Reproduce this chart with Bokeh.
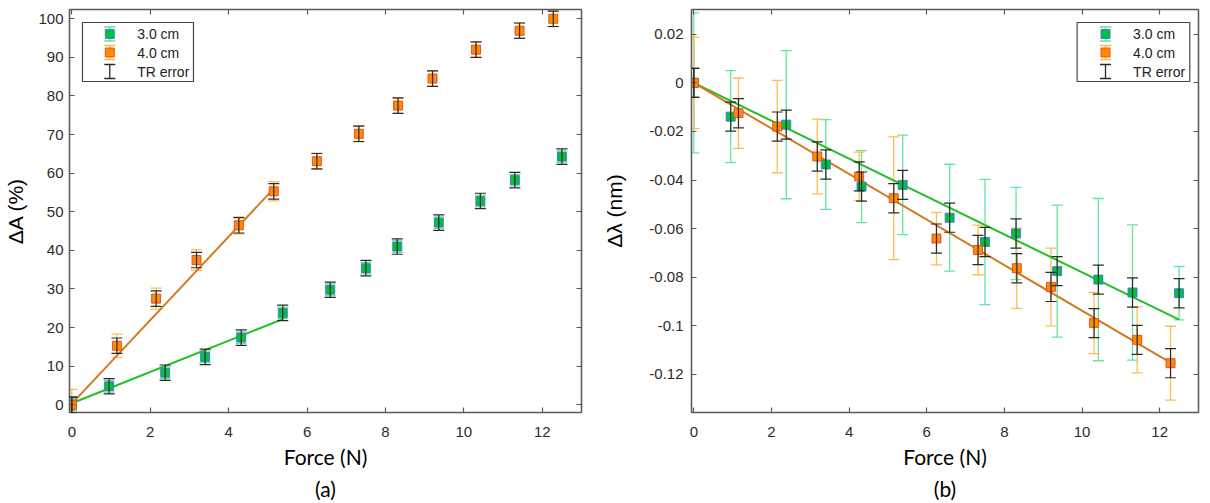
from bokeh.plotting import figure
from bokeh.layouts import row
from bokeh.models import (ColumnDataSource, Whisker, TeeHead, Range1d, LinearAxis,
                          FixedTicker, BoxAnnotation, Label, Title, CustomJSTickFormatter)
from bokeh.embed import file_html
from bokeh.resources import INLINE

# ---------------- data ----------------
force_30 = [0.0, 0.95, 2.38, 3.40, 4.32, 5.38, 6.59, 7.50, 8.30, 9.36, 10.42, 11.30, 12.50]
force_40 = [0.0, 1.15, 2.15, 3.18, 4.26, 5.15, 6.25, 7.32, 8.32, 9.20, 10.31, 11.42, 12.28]

# (a) Delta A (%)
dA_30 = [0.0, 4.8, 8.3, 12.4, 17.4, 23.8, 29.8, 35.4, 41.0, 47.2, 52.8, 58.2, 64.3]
dA_30_err = [1.5, 1.5, 1.5, 1.5, 1.5, 1.5, 1.5, 1.5, 1.5, 1.5, 1.5, 1.5, 1.5]
dA_40 = [0.0, 15.3, 27.5, 37.5, 46.5, 55.3, 63.1, 70.2, 77.5, 84.5, 92.0, 96.9, 100.0]
dA_40_err = [4.0, 3.0, 2.7, 2.7, 2.2, 2.5, 2.1, 2.1, 2.0, 2.0, 2.0, 2.0, 2.0]
dA_tr_err = [2.0, 2.0, 2.0, 2.0, 2.0, 2.0, 2.0, 2.0, 2.0, 2.0, 2.0, 2.0, 2.0]
fit_a_x_30 = [0.0, 5.38]
fit_a_y_30 = [0.4, 22.2]
fit_a_x_40 = [0.0, 5.15]
fit_a_y_40 = [0.3, 56.0]

# (b) Delta lambda (nm)
dl_30 = [0.0, -0.0139, -0.0172, -0.0336, -0.0427, -0.0420, -0.0555, -0.0655, -0.0620,
         -0.0775, -0.0810, -0.0863, -0.0866]
dl_30_err = [0.0288, 0.0189, 0.0305, 0.0185, 0.0148, 0.0205, 0.0220, 0.0258, 0.0190,
             0.0272, 0.0334, 0.0278, 0.0110]
dl_40 = [0.0, -0.0125, -0.0180, -0.0303, -0.0385, -0.0475, -0.0641, -0.0688, -0.0763,
         -0.0840, -0.0989, -0.1058, -0.1154]
dl_40_err = [0.0188, 0.0145, 0.0190, 0.0154, 0.0100, 0.0253, 0.0108, 0.0102, 0.0165,
             0.0160, 0.0126, 0.0136, 0.0152]
dl_tr_err = [0.006, 0.006, 0.006, 0.006, 0.006, 0.006, 0.006, 0.006, 0.006, 0.006, 0.006, 0.006, 0.006]
fit_b_x_30 = [0.0, 12.50]
fit_b_y_30 = [0.0, -0.0975]
fit_b_x_40 = [0.0, 12.28]
fit_b_y_40 = [0.0, -0.1152]

x_ticks = [0, 2, 4, 6, 8, 10, 12]
y_ticks_a = [0, 10, 20, 30, 40, 50, 60, 70, 80, 90, 100]
y_ticks_b = [0.02, 0.0, -0.02, -0.04, -0.06, -0.08, -0.10, -0.12]
series_labels = ["3.0 cm", "4.0 cm", "TR error"]

# ---------------- style ----------------
GREEN_FILL = "#00c23c"
GREEN_EDGE = "#4a6fe0"
GREEN_ERR = "#5ee39b"
ORANGE_FILL = "#ff8c00"
ORANGE_EDGE = "#e4481e"
ORANGE_ERR = "#ffb84d"
TR_COLOR = "#2a2a2a"
GREEN_LINE = "#22c022"
ORANGE_LINE = "#d27a22"
AXIS_COLOR = "#5a5a5a"
TICK_FONT = "Liberation Sans"
FRAME_H = 403


def whisker(p, x, y, err, color, level, width=1.3, alpha=1.0, cap=11):
    src = ColumnDataSource(dict(x=x, lo=[a - b for a, b in zip(y, err)],
                                up=[a + b for a, b in zip(y, err)]))
    w = Whisker(source=src, base="x", lower="lo", upper="up", dimension="height",
                line_color=color, line_width=width, line_alpha=alpha, level=level,
                upper_head=TeeHead(size=cap, line_color=color, line_width=width, line_alpha=alpha),
                lower_head=TeeHead(size=cap, line_color=color, line_width=width, line_alpha=alpha))
    p.add_layout(w)


def make_panel(width, height, border_left, border_right, yr, yticks, ylabel, ylabel_standoff,
               tick_standoff, panel_tag):
    p = figure(width=width, height=height, output_backend="svg", toolbar_location=None,
               x_range=Range1d(-0.06, 13.0), y_range=Range1d(*yr),
               min_border_left=border_left, min_border_right=border_right,
               min_border_top=9, min_border_bottom=height - 9 - FRAME_H,
               background_fill_color="white", border_fill_color="white")
    p.xgrid.visible = False
    p.ygrid.visible = False
    p.outline_line_color = AXIS_COLOR
    p.outline_line_width = 1.2

    for ax in (p.xaxis[0], p.yaxis[0]):
        ax.major_tick_in = 5
        ax.major_tick_out = 0
        ax.minor_tick_line_color = None
        ax.axis_line_color = AXIS_COLOR
        ax.axis_line_width = 1.4
        ax.major_tick_line_color = AXIS_COLOR
        ax.major_tick_line_width = 1.2
        ax.major_label_text_font = TICK_FONT
        ax.major_label_text_font_size = "15px"
        ax.major_label_text_color = "#2b2b2b"
        ax.axis_label_text_font_style = "normal"
        ax.axis_label_text_color = "black"

    p.xaxis[0].ticker = FixedTicker(ticks=x_ticks)
    p.xaxis[0].major_label_standoff = 14
    p.xaxis[0].axis_label = "Force (N)"
    p.xaxis[0].axis_label_text_font = "Lato"
    p.xaxis[0].axis_label_text_font_size = "21px"
    p.xaxis[0].axis_label_standoff = 4

    p.yaxis[0].ticker = FixedTicker(ticks=yticks)
    p.yaxis[0].major_label_standoff = tick_standoff
    p.yaxis[0].axis_label = ylabel
    p.yaxis[0].axis_label_text_font = "Liberation Sans"
    p.yaxis[0].axis_label_text_font_size = "21px"
    p.yaxis[0].axis_label_standoff = ylabel_standoff

    # mirrored tick-only axes (no labels drawn)
    for loc, ticks in (("above", x_ticks), ("right", yticks)):
        ax = LinearAxis(ticker=FixedTicker(ticks=ticks), major_tick_in=5, major_tick_out=0,
                        minor_tick_line_color=None, axis_line_color=AXIS_COLOR,
                        axis_line_width=1.4, major_tick_line_color=AXIS_COLOR,
                        major_tick_line_width=1.2, major_label_text_font_size="0px",
                        major_label_text_color=None,
                        major_label_standoff=0, axis_label=None)
        p.add_layout(ax, loc)

    t = Title(text=panel_tag, align="center", text_font="Lato", text_font_size="21px",
              text_font_style="normal", text_color="black", standoff=4)
    p.add_layout(t, "below")
    return p


def add_legend(p, left, right, top, bottom, icon_x, text_x, rows_y):
    p.add_layout(BoxAnnotation(left=left, right=right, top=top, bottom=bottom,
                               left_units="screen", right_units="screen",
                               top_units="screen", bottom_units="screen",
                               fill_color="white", fill_alpha=1.0,
                               line_color="#444444", line_alpha=1.0, line_width=1.2,
                               level="annotation"))
    specs = [(GREEN_ERR, GREEN_FILL, GREEN_EDGE), (ORANGE_ERR, ORANGE_FILL, ORANGE_EDGE),
             (TR_COLOR, None, None)]
    for (ecol, fcol, lcol), yv, lab in zip(specs, rows_y, series_labels):
        src = ColumnDataSource(dict(b=[icon_x], lo=[yv - 7], up=[yv + 7]))
        p.add_layout(Whisker(source=src, base="b", lower="lo", upper="up", dimension="height",
                             base_units="screen", lower_units="screen", upper_units="screen",
                             line_color=ecol, line_width=1.3, level="annotation",
                             upper_head=TeeHead(size=11, line_color=ecol, line_width=1.3),
                             lower_head=TeeHead(size=11, line_color=ecol, line_width=1.3)))
        if fcol is not None:
            p.add_layout(BoxAnnotation(left=icon_x - 4.5, right=icon_x + 4.5,
                                       top=yv + 4.5, bottom=yv - 4.5,
                                       left_units="screen", right_units="screen",
                                       top_units="screen", bottom_units="screen",
                                       fill_color=fcol, fill_alpha=1.0, line_color=lcol,
                                       line_alpha=0.9, line_width=1.0, level="annotation"))
        p.add_layout(Label(x=text_x, y=yv, x_units="screen", y_units="screen", text=lab,
                           text_font=TICK_FONT, text_font_size="14px", text_color="#222222",
                           text_baseline="middle", text_align="left", level="annotation"))


def draw_series(p, y30, e30, y40, e40, etr, fx30, fy30, fx40, fy40):
    whisker(p, force_30, y30, e30, GREEN_ERR, "underlay", alpha=0.95)
    whisker(p, force_40, y40, e40, ORANGE_ERR, "underlay", alpha=0.95)
    p.line(fx30, fy30, line_color=GREEN_LINE, line_width=2)
    p.line(fx40, fy40, line_color=ORANGE_LINE, line_width=2)
    p.scatter(force_30, y30, marker="square", size=9, fill_color=GREEN_FILL,
              line_color=GREEN_EDGE, line_alpha=0.9, line_width=1.0)
    p.scatter(force_40, y40, marker="square", size=9, fill_color=ORANGE_FILL,
              line_color=ORANGE_EDGE, line_alpha=0.9, line_width=1.0)
    whisker(p, force_30, y30, etr, TR_COLOR, "guide", width=1.2)
    whisker(p, force_40, y40, etr, TR_COLOR, "guide", width=1.2)


HEIGHT = 502

# ---------------- panel (a) ----------------
pa = make_panel(600, HEIGHT, 69, 19, (-2.0, 102.4), y_ticks_a, "\u0394A (%)", 8, 6, "(a)")
draw_series(pa, dA_30, dA_30_err, dA_40, dA_40_err, dA_tr_err,
            fit_a_x_30, fit_a_y_30, fit_a_x_40, fit_a_y_40)
add_legend(pa, 13, 124, FRAME_H - 13, FRAME_H - 72, 40.3, 67.7,
           [FRAME_H - 24.5, FRAME_H - 43, FRAME_H - 62])

# ---------------- panel (b) ----------------
pb = make_panel(609, HEIGHT, 88, 11, (-0.1357, 0.0302), y_ticks_b, "\u0394\u03bb (nm)", 20, 8, "(b)")
pb.yaxis[0].formatter = CustomJSTickFormatter(
    code="return tick.toFixed(2).replace(/\\.?0+$/, '');")
draw_series(pb, dl_30, dl_30_err, dl_40, dl_40_err, dl_tr_err,
            fit_b_x_30, fit_b_y_30, fit_b_x_40, fit_b_y_40)
add_legend(pb, 385.6, 498.3, FRAME_H - 13, FRAME_H - 72, 414.0, 441.6,
           [FRAME_H - 24.5, FRAME_H - 43, FRAME_H - 62])

layout = row(pa, pb)
open("out.html", "w").write(file_html(layout, INLINE))
